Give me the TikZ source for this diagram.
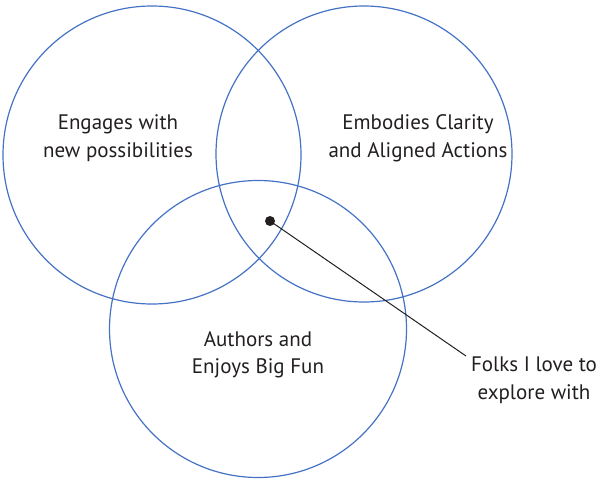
\documentclass[tikz,border=0pt]{standalone}
\usepackage{fontspec}
\setmainfont{PT Sans}
\definecolor{venn}{RGB}{68,114,196}
\definecolor{ink}{RGB}{35,31,32}
\begin{document}
\begin{tikzpicture}[x=1pt,y=-1pt,
  ring/.style={circle,draw=venn,line width=1.2pt,minimum size=#1,inner sep=0pt},
  lbl/.style={align=center,font=\fontsize{21}{27.5}\selectfont,text=ink,inner sep=0pt},
  pin/.style={circle,fill=ink,minimum size=10pt,inner sep=0pt}]
\useasboundingbox (0,0) rectangle (604,487);
\node[ring=298pt] (c1) at (152,155) {};
\node[ring=296pt] (c2) at (364,154) {};
\node[ring=297pt] (c3) at (258,329) {};
\node[lbl] (t1) at (118,138) {Engages with\\new possibilities};
\node[lbl] (t2) at (418,138) {Embodies Clarity\\and Aligned Actions};
\node[lbl] (t3) at (258,355) {Authors and\\Enjoys Big Fun};
\node[lbl] (t4) at (534,380) {Folks I love to\\explore with};
\node[pin] (dot) at (270,221) {};
\coordinate (end) at (466,356);
\draw[ink,line width=1pt] (dot.center) -- (end);
\end{tikzpicture}
\end{document}
